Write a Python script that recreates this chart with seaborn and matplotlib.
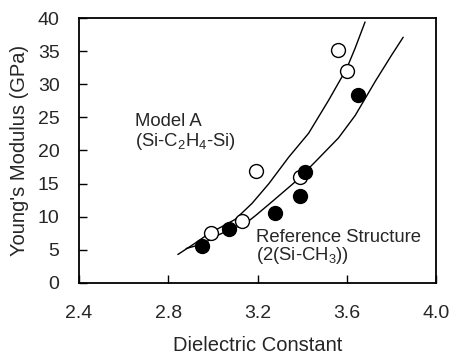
import numpy as np
import pandas as pd
import matplotlib
matplotlib.use("Agg")
import matplotlib.pyplot as plt
import seaborn as sns

model_a_k = [2.99, 3.13, 3.195, 3.39, 3.56, 3.60]
model_a_E = [7.5, 9.4, 16.9, 16.0, 35.1, 32.0]

ref_k = [2.95, 3.07, 3.28, 3.39, 3.415, 3.65]
ref_E = [5.6, 8.2, 10.6, 13.1, 16.8, 28.4]

# Trend curves
model_a_curve_k = [2.843, 2.92, 2.984, 3.04, 3.10, 3.175, 3.251, 3.340, 3.429, 3.519, 3.600, 3.637, 3.682]
model_a_curve_E = [4.3, 6.0, 7.5, 8.5, 9.6, 12.0, 15.0, 19.0, 22.6, 27.6, 32.4, 35.4, 39.4]

ref_curve_k = [2.88, 2.954, 3.028, 3.073, 3.147, 3.192, 3.266, 3.37, 3.459, 3.563, 3.638, 3.727, 3.801, 3.853]
ref_curve_E = [5.2, 5.9, 7.3, 8.0, 9.0, 10.2, 12.3, 15.3, 18.3, 21.9, 25.3, 30.4, 34.4, 37.1]

x_ticks = [2.4, 2.8, 3.2, 3.6, 4.0]
y_ticks = [0, 5, 10, 15, 20, 25, 30, 35, 40]

sns.set_style("ticks")
plt.rcParams["font.family"] = ["Liberation Sans", "DejaVu Sans"]
plt.rcParams["font.size"] = 14
plt.rcParams["mathtext.default"] = "regular"

fig = plt.figure(figsize=(4.5, 3.56), dpi=100)
ax = fig.add_axes([0.1756, 0.2051, 0.7933, 0.7443])

sns.lineplot(x=model_a_curve_k, y=model_a_curve_E, sort=False, estimator=None,
             color="black", linewidth=1.0, ax=ax)
sns.lineplot(x=ref_curve_k, y=ref_curve_E, sort=False, estimator=None,
             color="black", linewidth=1.0, ax=ax)

sns.scatterplot(x=model_a_k, y=model_a_E, marker="o", s=100, facecolor="white",
                edgecolor="black", linewidth=1.0, ax=ax, zorder=3)
sns.scatterplot(x=ref_k, y=ref_E, marker="o", s=100, color="black",
                edgecolor="black", linewidth=1.0, ax=ax, zorder=4)

ax.text(2.65, 24.4, "Model A", fontsize=13.3, va="center")
ax.text(2.65, 21.4, "(Si-C$_2$H$_4$-Si)", fontsize=13.3, va="center")
ax.text(3.195, 6.9, "Reference Structure", fontsize=13.3, va="center")
ax.text(3.195, 4.2, "(2(Si-CH$_3$))", fontsize=13.3, va="center")

ax.set_xlim(2.4, 4.0)
ax.set_ylim(0, 40)
ax.set_xticks(x_ticks)
ax.set_xticklabels([f"{v:.1f}" for v in x_ticks])
ax.set_yticks(y_ticks)
ax.tick_params(axis="both", direction="in", length=6, width=1, labelsize=14, color="black")
ax.tick_params(axis="x", pad=16)
ax.tick_params(axis="y", pad=14)
for s in ax.spines.values():
    s.set_visible(True)
    s.set_linewidth(1.3)
    s.set_color("black")

ax.set_xlabel("Dielectric Constant", fontsize=14.5, labelpad=10)
ax.set_ylabel("Young's Modulus (GPa)", fontsize=14.5, labelpad=6)

fig.savefig("out.png", dpi=100)
